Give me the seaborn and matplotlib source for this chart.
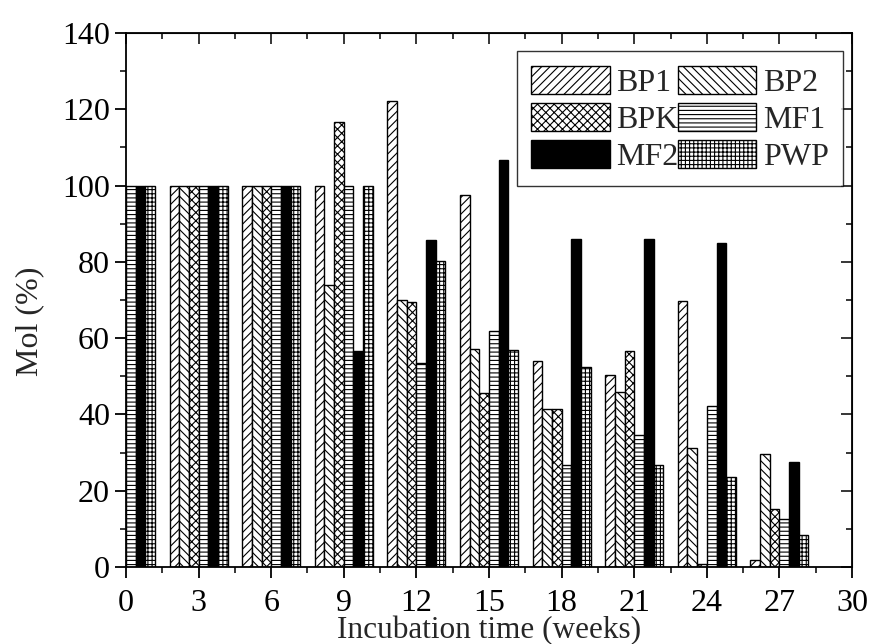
import pandas as pd
import matplotlib
matplotlib.use('Agg')
import matplotlib.pyplot as plt
import seaborn as sns
from matplotlib.ticker import MultipleLocator

# Datos
semanas = [0, 3, 6, 9, 12, 15, 18, 21, 24, 27]
bp1 = [100, 100, 100, 100, 122.2, 97.6, 53.9, 50.2, 69.7, 1.9]
bp2 = [100, 100, 100, 73.8, 69.9, 57.2, 41.4, 45.8, 31.2, 29.6]
bpk = [100, 100, 100, 116.7, 69.6, 45.6, 41.4, 56.5, 0.9, 15.3]
mf1 = [100, 100, 100, 100, 53.4, 61.8, 26.7, 34.5, 42.1, 12.7]
mf2 = [100, 100, 100, 56.5, 85.6, 106.8, 86.1, 86.1, 84.9, 27.5]
pwp = [100, 100, 100, 100, 80.3, 56.9, 52.5, 26.7, 23.6, 8.3]
series = ['BP1', 'BP2', 'BPK', 'MF1', 'MF2', 'PWP']
hatches = ['////', '\\\\\\\\', 'xxxx', '----', '', '++++']
colores = {'BP1': 'white', 'BP2': 'white', 'BPK': 'white',
           'MF1': 'white', 'MF2': 'black', 'PWP': 'white'}

df = pd.DataFrame({'BP1': bp1, 'BP2': bp2, 'BPK': bpk,
                   'MF1': mf1, 'MF2': mf2, 'PWP': pwp})
df['semana'] = semanas
df = df.melt(id_vars='semana', var_name='serie', value_name='mol')

sns.set_style('ticks')
plt.rcParams['font.family'] = ['Liberation Serif', 'DejaVu Serif']
plt.rcParams['hatch.linewidth'] = 0.8
plt.rcParams['hatch.color'] = 'black'

fig = plt.figure(figsize=(8.73, 6.44), dpi=100)
ax = fig.add_axes([0.1443, 0.1196, 0.8317, 0.8292])

sns.barplot(data=df, x='semana', y='mol', hue='serie', hue_order=series,
            native_scale=True, width=0.8, palette=colores,
            edgecolor='black', linewidth=1.0, saturation=1, ax=ax,
            legend=False)

for cont, h in zip(ax.containers, hatches):
    for barra in cont:
        barra.set_hatch(h)

ax.set_xlim(0, 30)
ax.set_ylim(0, 140)
ax.xaxis.set_major_locator(MultipleLocator(3))
ax.xaxis.set_minor_locator(MultipleLocator(1.5))
ax.yaxis.set_major_locator(MultipleLocator(20))
ax.yaxis.set_minor_locator(MultipleLocator(10))
ax.tick_params(which='major', direction='out', length=8, width=1.3,
               labelsize=23, colors='black')
ax.tick_params(axis='x', which='major', pad=8)
ax.tick_params(which='minor', direction='out', length=4, width=1.3)
for s in ax.spines.values():
    s.set_linewidth(1.3)
    s.set_color('black')

# ejes superior y derecho con ticks hacia dentro
arriba = ax.secondary_xaxis('top')
arriba.xaxis.set_major_locator(MultipleLocator(3))
arriba.xaxis.set_minor_locator(MultipleLocator(1.5))
arriba.tick_params(which='major', direction='in', length=8, width=1.3, labeltop=False)
arriba.tick_params(which='minor', direction='in', length=4, width=1.3)
derecha = ax.secondary_yaxis('right')
derecha.yaxis.set_major_locator(MultipleLocator(20))
derecha.yaxis.set_minor_locator(MultipleLocator(10))
derecha.tick_params(which='major', direction='in', length=8, width=1.3, labelright=False)
derecha.tick_params(which='minor', direction='in', length=4, width=1.3)

ax.set_xlabel('Incubation time (weeks)', fontsize=22.5)
ax.set_ylabel('Mol (%)', fontsize=23)
ax.xaxis.set_label_coords(0.5, -0.091)
ax.yaxis.set_label_coords(-0.112, 0.46)

# leyenda en orden por filas: BP1 BP2 / BPK MF1 / MF2 PWP
orden = [0, 2, 4, 1, 3, 5]
leg = ax.legend([ax.containers[i] for i in orden], [series[i] for i in orden],
                ncol=2, loc='upper right', bbox_to_anchor=(0.9876, 0.966),
                borderaxespad=0, fontsize=23, frameon=True, fancybox=False,
                edgecolor='black', handlelength=2.45, handleheight=1.0,
                handletextpad=0.2, columnspacing=0.0, labelspacing=0.15,
                borderpad=0.45)
leg.get_frame().set_linewidth(1.0)

fig.savefig('out.png', dpi=100)
